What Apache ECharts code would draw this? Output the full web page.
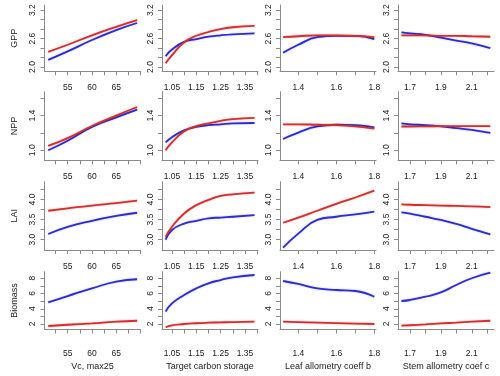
<!DOCTYPE html>
<html>
<head>
<meta charset="utf-8">
<script src="https://cdn.jsdelivr.net/npm/echarts@6/dist/echarts.min.js"></script>
<style>
  html, body { margin: 0; padding: 0; background: #fff; }
  #chart { width: 500px; height: 376px; }
</style>
</head>
<body>
<div id="chart"></div>
<script>
// row / column labels
const rowNames = ['GPP', 'NPP', 'LAI', 'Biomass'];
const colNames = ['Vc, max25', 'Target carbon storage', 'Leaf allometry coeff b', 'Stem allometry coef c'];

// x sample positions per column
const vcX = [51, 55, 60, 65, 69.3];
const carbonX = [1.024, 1.05, 1.1, 1.15, 1.2, 1.25, 1.3, 1.389];
const leafX = [1.32, 1.4, 1.5, 1.6, 1.7, 1.8];
const stemX = [1.645, 1.7, 1.8, 1.9, 2.0, 2.1, 2.22];

// GPP
const gppVcRed = [2.32, 2.47, 2.67, 2.85, 2.99];
const gppVcBlue = [2.15, 2.33, 2.57, 2.78, 2.93];
const gppCarbonRed = [2.08, 2.25, 2.52, 2.66, 2.74, 2.80, 2.84, 2.87];
const gppCarbonBlue = [2.23, 2.37, 2.53, 2.59, 2.64, 2.67, 2.69, 2.71];
const gppLeafRed = [2.63, 2.65, 2.67, 2.67, 2.66, 2.63];
const gppLeafBlue = [2.30, 2.47, 2.63, 2.66, 2.66, 2.59];
const gppStemRed = [2.67, 2.67, 2.67, 2.66, 2.66, 2.65, 2.64];
const gppStemBlue = [2.73, 2.71, 2.68, 2.62, 2.56, 2.50, 2.40];

// NPP
const nppVcRed = [1.05, 1.14, 1.28, 1.40, 1.50];
const nppVcBlue = [1.00, 1.11, 1.27, 1.38, 1.47];
const nppCarbonRed = [1.00, 1.09, 1.22, 1.28, 1.31, 1.34, 1.36, 1.375];
const nppCarbonBlue = [1.09, 1.15, 1.23, 1.27, 1.29, 1.30, 1.31, 1.315];
const nppLeafRed = [1.30, 1.30, 1.295, 1.29, 1.275, 1.25];
const nppLeafBlue = [1.13, 1.205, 1.275, 1.295, 1.29, 1.265];
const nppStemRed = [1.275, 1.275, 1.277, 1.278, 1.279, 1.28, 1.28];
const nppStemBlue = [1.31, 1.30, 1.29, 1.275, 1.255, 1.235, 1.20];

// LAI
const laiVcRed = [3.72, 3.78, 3.85, 3.91, 3.97];
const laiVcBlue = [3.14, 3.32, 3.47, 3.59, 3.67];
const laiCarbonRed = [3.07, 3.32, 3.65, 3.86, 3.99, 4.09, 4.13, 4.17];
const laiCarbonBlue = [3.00, 3.24, 3.40, 3.47, 3.53, 3.55, 3.57, 3.61];
const laiLeafRed = [3.42, 3.55, 3.72, 3.89, 4.05, 4.22];
const laiLeafBlue = [2.80, 3.15, 3.49, 3.57, 3.63, 3.70];
const laiStemRed = [3.88, 3.87, 3.86, 3.85, 3.84, 3.83, 3.81];
const laiStemBlue = [3.68, 3.65, 3.57, 3.49, 3.39, 3.27, 3.13];

// Biomass
const bioVcRed = [1.74, 1.90, 2.09, 2.30, 2.43];
const bioVcBlue = [4.85, 5.67, 6.68, 7.55, 7.87];
const bioCarbonRed = [1.57, 1.83, 2.00, 2.10, 2.17, 2.22, 2.26, 2.30];
const bioCarbonBlue = [3.62, 4.70, 5.80, 6.68, 7.34, 7.77, 8.13, 8.43];
const bioLeafRed = [2.30, 2.25, 2.18, 2.12, 2.06, 2.00];
const bioLeafBlue = [7.64, 7.25, 6.68, 6.46, 6.33, 5.58];
const bioStemRed = [1.78, 1.84, 1.95, 2.07, 2.19, 2.31, 2.43];
const bioStemBlue = [5.02, 5.15, 5.58, 6.15, 7.12, 8.00, 8.73];

// ticks and tick labels
const xTicks = [
  [52.5, 55, 57.5, 60, 62.5, 65, 67.5, 70],
  [1.05, 1.1, 1.15, 1.2, 1.25, 1.3, 1.35, 1.4],
  [1.4, 1.5, 1.6, 1.7, 1.8],
  [1.7, 1.8, 1.9, 2.0, 2.1, 2.2]
];
const xTickLabels = [[55, 60, 65], [1.05, 1.15, 1.25, 1.35], [1.4, 1.6, 1.8], [1.7, 1.9, 2.1]];
const yTicks = [
  [2.0, 2.2, 2.4, 2.6, 2.8, 3.0, 3.2],
  [1.0, 1.2, 1.4, 1.6],
  [3.0, 3.25, 3.5, 3.75, 4.0, 4.25],
  [2, 3, 4, 5, 6, 7, 8]
];
const yTickLabels = [[2.0, 2.6, 3.2], [1.0, 1.4], [3.0, 3.5, 4.0], [2, 4, 6, 8]];

const colX = [vcX, carbonX, leafX, stemX];
const redVals = [
  [gppVcRed, gppCarbonRed, gppLeafRed, gppStemRed],
  [nppVcRed, nppCarbonRed, nppLeafRed, nppStemRed],
  [laiVcRed, laiCarbonRed, laiLeafRed, laiStemRed],
  [bioVcRed, bioCarbonRed, bioLeafRed, bioStemRed]
];
const blueVals = [
  [gppVcBlue, gppCarbonBlue, gppLeafBlue, gppStemBlue],
  [nppVcBlue, nppCarbonBlue, nppLeafBlue, nppStemBlue],
  [laiVcBlue, laiCarbonBlue, laiLeafBlue, laiStemBlue],
  [bioVcBlue, bioCarbonBlue, bioLeafBlue, bioStemBlue]
];

// layout
const colLeft = [44.5, 162, 280, 398];
const colWidth = 96;
const rowTop = [5, 91.7, 181.7, 271.7];
const rowHeight = [66.3, 68.6, 68.3, 57.8];
const xRange = [[50.23, 70], [1.009, 1.4035], [1.3037, 1.809], [1.6226, 2.244]];
const yRange = [[1.91, 3.31], [0.884, 1.677], [2.74, 4.445], [1.28, 8.86]];
const xDecimals = [0, 2, 1, 1];
const yDecimals = [1, 1, 1, 0];

const font = 'Liberation Sans, Arial, sans-serif';
const axisColor = '#8a8a8a';
const textColor = '#222';

const grids = [], xAxes = [], yAxes = [], series = [];

for (let r = 0; r < 4; r++) {
  for (let c = 0; c < 4; c++) {
    const idx = r * 4 + c;
    grids.push({ left: colLeft[c], top: rowTop[r], width: colWidth, height: rowHeight[r] });

    xAxes.push({
      type: 'value',
      gridIndex: idx,
      min: xRange[c][0],
      max: xRange[c][1],
      name: r === 3 ? colNames[c] : '',
      nameLocation: 'middle',
      nameGap: 33,
      nameTextStyle: { fontFamily: font, fontSize: 9, color: textColor },
      axisLine: { show: true, onZero: false, lineStyle: { color: axisColor, width: 1 } },
      axisTick: { show: true, length: 4, customValues: xTicks[c], lineStyle: { color: axisColor } },
      axisLabel: {
        customValues: xTickLabels[c],
        margin: r === 3 ? 20 : 12,
        fontFamily: font,
        fontSize: 8.5,
        color: textColor,
        formatter: v => Number(v).toFixed(xDecimals[c])
      },
      splitLine: { show: false }
    });

    yAxes.push({
      type: 'value',
      gridIndex: idx,
      min: yRange[r][0],
      max: yRange[r][1],
      name: c === 0 ? rowNames[r] : '',
      nameLocation: 'middle',
      nameRotate: 90,
      nameGap: 25,
      nameTextStyle: { fontFamily: font, fontSize: 9, color: textColor },
      axisLine: { show: true, lineStyle: { color: axisColor, width: 1 } },
      axisTick: { show: true, length: 4, customValues: yTicks[r], lineStyle: { color: axisColor } },
      axisLabel: {
        customValues: yTickLabels[r],
        rotate: 90,
        margin: 7,
        fontFamily: font,
        fontSize: 8.5,
        color: textColor,
        formatter: v => Number(v).toFixed(yDecimals[r])
      },
      splitLine: { show: false }
    });

    const xs = colX[c];
    [['#2b2bdc', blueVals[r][c]], ['#e02a2a', redVals[r][c]]].forEach(([color, vals]) => {
      series.push({
        type: 'line',
        xAxisIndex: idx,
        yAxisIndex: idx,
        data: xs.map((x, i) => [x, vals[i]]),
        showSymbol: false,
        smooth: true,
        silent: true,
        lineStyle: {
          color: color,
          width: 1.8,
          shadowColor: 'rgba(0,0,0,0.25)',
          shadowBlur: 2
        }
      });
    });
  }
}

const chart = echarts.init(document.getElementById('chart'), null, { renderer: 'canvas' });
chart.setOption({
  animation: false,
  backgroundColor: '#fff',
  grid: grids,
  xAxis: xAxes,
  yAxis: yAxes,
  series: series
});
</script>
</body>
</html>
